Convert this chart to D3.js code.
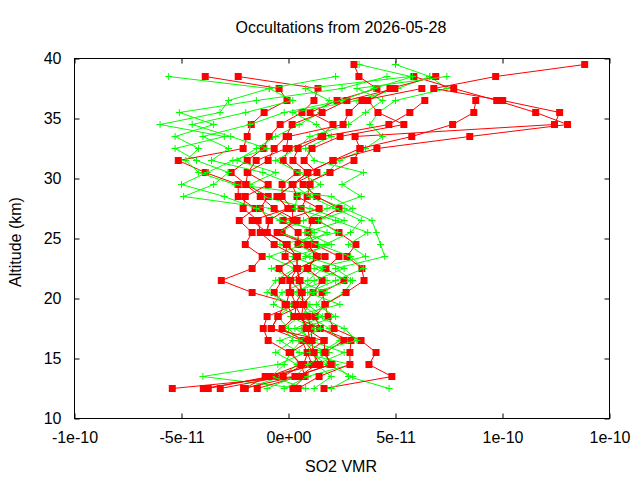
<!DOCTYPE html>
<html>
<head>
<meta charset="utf-8">
<script src="https://cdn.jsdelivr.net/npm/d3@7"></script>
<style>
    body { margin: 0; background: #fff; }
    svg text { font-family: "Liberation Sans", Arial, sans-serif; }
</style>
</head>
<body>
<svg id="chart" width="640" height="480"></svg>
<script>
document.addEventListener("DOMContentLoaded", function() {

    // Data (VMR values in units of 1e-11)
    ///

    const VMR_UNIT = 1e-11;

    const altitudes = [12.5, 13.5, 14.5, 15.5, 16.5, 17.5, 18.5, 19.5, 20.5, 21.5,
                       22.5, 23.5, 24.5, 25.5, 26.5, 27.5, 28.5, 29.5, 30.5, 31.5,
                       32.5, 33.5, 34.5, 35.5, 36.5, 37.5, 38.5, 39.5];

    const red0 = [-3.98, -0.62, 1.10, 0.87, 0.63, -0.81, -0.49, -0.16, -0.67, -0.30, 0.40, -0.16, -0.07, -1.04, -0.90, -1.32, -0.95, -1.98, -2.68, -1.93, -1.18, -0.90, -0.39, 0.63, 1.19, 1.38, -2.35];
    const red1 = [0.21, 0.77, 0.59, 0.03, -0.95, -1.18, -1.00, 0.31, -1.70, -3.14, -1.70, -1.23, -2.02, -1.70, -2.30, -1.56, -2.35, -2.35, -3.89, -5.15, -2.12, -1.93, -1.74, -1.14, -0.07, -0.44, -3.89];
    const red2 = [-5.43, 0.31, 1.94, 1.71, 2.59, 1.47, 1.24, 1.71, 1.57, 2.59, 1.75, 2.36, 1.24, 0.91, 1.10, 0.59, 0.87, 1.01, 0.87, 2.08, 4.13, 8.47, 13.04, 11.55, 9.73, 7.72, 5.86];
    const red3 = [1.66, 4.83, 3.76, 4.09, 3.39, 2.13, 1.85, 1.71, 2.69, 3.53, 3.43, 2.73, 3.15, 2.36, 1.38, 2.36, 1.33, 0.68, 1.94, 3.06, 3.34, 3.11, 12.43, 12.67, 10.01, 6.79, 9.68, 13.84];
    const red4 = [-2.02, -1.09, 1.47, 1.15, 1.10, 1.05, 0.91, 0.68, 1.15, 1.57, 0.87, 1.33, 0.91, -0.30, 0.21, 0.17, -0.30, -0.30, 0.40, -0.25, 0.03, 1.52, 2.08, 1.01, 2.27, 4.13, 3.29, 3.06];
    const red5 = [-3.19, -0.25, 0.70, 0.90, 1.66, 0.82, 0.59, 0.30, 0.63, 0.54, 0.40, 1.71, 0.45, 0.45, -0.25, 1.43, 0.40, 0.17, 1.33, 0.73, 1.10, 2.41, 5.39, 4.18, 3.71, 4.74, 6.88];
    const red6 = [0.45, 1.43, 2.87, 2.87, 2.92, 1.47, 0.26, -0.10, 0.03, 0.07, -0.44, 0.40, -0.67, -1.32, -1.42, -2.12, -2.02, -0.95, -1.93, -0.95, -0.67, -0.11, 0.17, 1.57, 2.73, 4.97];
    const red7 = [-1.46, 0.50, 1.30, 1.20, 0.70, -0.30, 0.30, 0.35, 0.10, 0.10, 0.90, 1.30, 0.90, -0.53, 0.40, -0.67, -1.32, -2.00, -1.90, -1.51, -0.11, 0.00, 2.55, 2.83, 3.43, 6.23];
    const red8 = [-3.75, -0.90, 0.59, 0.10, 1.00, 0.90, 0.60, 0.70, 0.60, 0.50, 0.40, 0.40, -0.10, -1.00, -1.70, -0.02, -0.53, 0.20, 0.90, 0.21, 0.45, 1.60, 4.69, 5.67, 6.37];
    const red9 = [-2.10, 0.31, 2.00, 1.70, 1.66, -0.80, -0.49, 0.68, 0.63, 0.07, 0.40, 0.40, -0.07, -1.00, -0.90, -0.02, -0.53, 0.20, 0.90, 2.08, 3.34, 5.76, 7.67, 8.66, 8.75];

    const green0 = [0.5, -4.0, -0.5, 0.8, 1.2, 0.3, 1.6, 0.9, 0.2, 1.8, 0.5, 1.5, 0.4, 1.2, 0.1, -0.8, -4.9, -3.5, -2.8, -4.3, -5.3, -3.0, -6.0, -3.2, -2.8, -0.9, -5.6];
    const green1 = [4.7, 2.8, 2.2, 1.5, 2.4, 1.9, 1.0, 1.7, 2.6, 3.0, 2.2, 4.5, 4.3, 4.1, 3.9, 2.6, 1.2, 0.8, 1.8, 2.4, 3.6, 4.4, 3.8, 4.2, 5.0, 7.4, 6.6, 5.0];
    const green2 = [-2.0, -0.3, 0.4, -0.6, 0.2, -0.2, 0.5, -0.7, -0.3, 0.9, 1.6, 0.2, 2.0, 0.8, 2.6, 1.0, -1.2, -1.8, -0.6, -2.4, -1.5, -0.6, 0.5, 1.5, 1.9, 0.8, 5.7, 3.3];
    const green3 = [1.2, 2.0, 1.3, 2.6, 1.0, 0.6, 2.2, 1.3, 1.8, 0.4, -0.8, 1.0, -0.4, 2.3, 1.4, 3.0, 2.0, -2.5, -4.2, -4.8, -4.2, -5.3, -3.5, -5.1, -1.5, 2.5, 4.6];
    const green4 = [-0.2, 0.9, 2.9, 0.5, -0.4, 1.2, 0.1, 2.4, 0.9, 2.2, 3.5, 2.9, 1.4, -0.5, 0.7, 1.8, 3.4, 2.5, 3.5, 1.2, 0.8, 2.0, 1.3, 0.2, 3.2, 5.1, 6.6];
    const green5 = [0.8, -0.8, -0.2, 0.1, 0.6, 0.0, -0.5, 0.2, -1.0, -0.6, 0.3, -0.9, 0.7, 1.8, -0.4, -1.5, -3.0, -5.0, -3.8, -2.6, -1.0, -2.7, -4.5, -2.0, 0.2, -0.9, 2.2];
    const green6 = [2.0, 3.0, 1.8, 1.0, 3.2, 2.6, 1.4, 0.6, 1.2, 2.9, 1.2, 3.6, 2.8, 3.7, 2.2, 0.3, 0.4, 1.5, 0.5, -0.6, 0.4, 1.0, 2.8, 3.6, 4.4, 3.2, 7.4];
    const green7 = [-1.0, 0.3, 0.9, 1.9, 0.5, 1.5, 0.6, 1.0, 0.4, 1.2, 2.6, 0.8, 1.7, 2.9, 3.4, 2.2, 1.0, 0.2, -1.2, -3.6, -2.8, -4.0, -1.8, -0.2, 2.5, 4.0, 5.8];

    const redProfiles = [red0, red1, red2, red3, red4, red5, red6, red7, red8, red9];
    const greenProfiles = [green0, green1, green2, green3, green4, green5, green6, green7];

    const xTicks = [-1e-10, -5e-11, 0, 5e-11, 1e-10, 1.5e-10];
    const xTickLabels = ["-1e-10", "-5e-11", "0e+00", "5e-11", "1e-10", "1e-10"];
    const yTicks = [10, 15, 20, 25, 30, 35, 40];

    // Display settings
    ///

    const width = 640, height = 480;
    const margin = {top: 58.5, right: 30.5, bottom: 61.5, left: 74.5};
    const graphWidth = width - margin.left - margin.right;
    const graphHeight = height - margin.top - margin.bottom;
    const RED = "#ff0000", GREEN = "#00ff00";

    ////////// Scales //////////

    const x = d3.scaleLinear().domain([-1e-10, 1.5e-10]).range([0, graphWidth]);
    const y = d3.scaleLinear().domain([10, 40]).range([graphHeight, 0]);
    const line = d3.line()
        .x(d => x(d.x))
        .y(d => y(d.y));

    const toPoints = arr => arr.map((v, i) => ({x: v * VMR_UNIT, y: altitudes[i]}));

    const svg = d3.select("#chart");
    svg.append("rect").attr("width", width).attr("height", height).attr("fill", "#fff");

    const g = svg.append("g")
        .attr("transform", `translate(${margin.left},${margin.top})`);

    ////////// Profiles //////////

    const plot = g.append("g");
    const nPairs = Math.max(redProfiles.length, greenProfiles.length);
    for (let k = 0; k < nPairs; k++) {
        if (redProfiles[k]) {
            const pts = toPoints(redProfiles[k]);
            plot.append("path")
                .datum(pts)
                .attr("d", line)
                .attr("fill", "none")
                .attr("stroke", RED)
                .attr("stroke-width", 1);
            plot.selectAll(null)
                .data(pts)
                .enter().append("rect")
                .attr("x", d => x(d.x) - 3.5)
                .attr("y", d => y(d.y) - 3.5)
                .attr("width", 7)
                .attr("height", 7)
                .attr("fill", RED);
        }
        if (greenProfiles[k]) {
            const pts = toPoints(greenProfiles[k]);
            plot.append("path")
                .datum(pts)
                .attr("d", line)
                .attr("fill", "none")
                .attr("stroke", GREEN)
                .attr("stroke-width", 1);
            plot.selectAll(null)
                .data(pts)
                .enter().append("path")
                .attr("transform", d => `translate(${x(d.x)},${y(d.y)})`)
                .attr("d", "M-3.5,0H3.5M0,-3.5V3.5")
                .attr("stroke", GREEN)
                .attr("stroke-width", 1);
        }
    }

    ////////// Axes //////////

    const styleAxis = sel => {
        sel.select(".domain").remove();
        sel.selectAll("line").attr("stroke", "#000");
        sel.selectAll("text").attr("fill", "#000").style("font-size", "16px");
    };

    g.append("g")
        .attr("transform", `translate(0,${graphHeight})`)
        .call(d3.axisBottom(x).tickValues(xTicks).tickFormat((d, i) => xTickLabels[i])
            .tickSize(-5).tickPadding(13))
        .call(styleAxis);

    g.append("g")
        .call(d3.axisTop(x).tickValues(xTicks).tickFormat("").tickSize(-5))
        .call(styleAxis);

    g.append("g")
        .call(d3.axisLeft(y).tickValues(yTicks).tickFormat(d3.format("d"))
            .tickSize(-5).tickPadding(13))
        .call(styleAxis);

    g.append("g")
        .attr("transform", `translate(${graphWidth},0)`)
        .call(d3.axisRight(y).tickValues(yTicks).tickFormat("").tickSize(-5))
        .call(styleAxis);

    // Border
    g.append("rect")
        .attr("width", graphWidth)
        .attr("height", graphHeight)
        .attr("fill", "none")
        .attr("stroke", "#000")
        .attr("stroke-width", 1);

    ////////// Labels //////////

    svg.append("text")
        .attr("x", 341)
        .attr("y", 33)
        .attr("text-anchor", "middle")
        .style("font-size", "16px")
        .text("Occultations from 2026-05-28");

    svg.append("text")
        .attr("x", 341)
        .attr("y", 472)
        .attr("text-anchor", "middle")
        .style("font-size", "16px")
        .text("SO2 VMR");

    svg.append("text")
        .attr("transform", "translate(21,242) rotate(-90)")
        .attr("text-anchor", "middle")
        .style("font-size", "16px")
        .text("Altitude (km)");

});
</script>
</body>
</html>
